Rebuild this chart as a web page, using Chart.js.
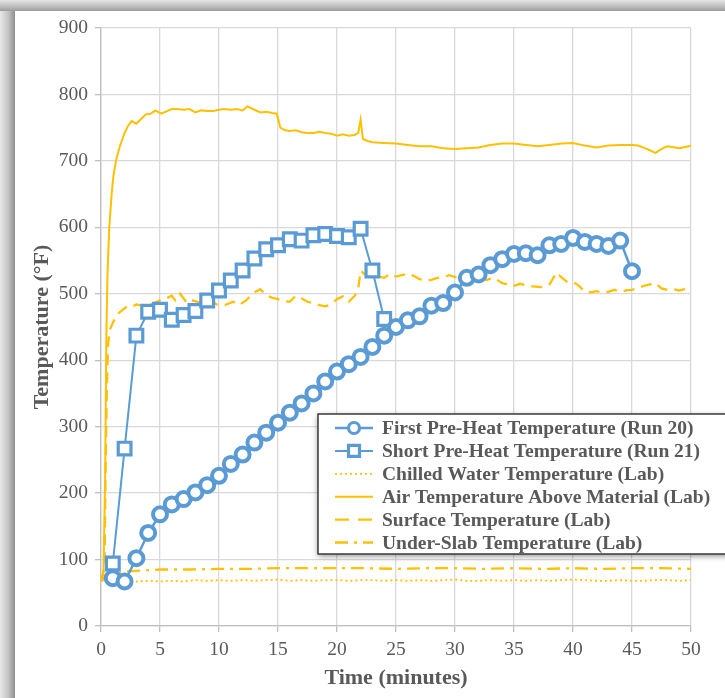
<!DOCTYPE html>
<html lang="en">
<head>
  <meta charset="UTF-8" />
  <script src="https://cdn.jsdelivr.net/npm/chart.js"></script>
  <style>
    html, body { margin: 0; padding: 0; background: #fff; }
    body { width: 725px; height: 698px; position: relative; overflow: hidden; }
    #frameLeft { position: absolute; left: 0; top: 0; width: 15px; height: 698px;
      background: linear-gradient(to right, #e8e8e8, #c4c4c4 55%, #8e8e8e); }
    #frameTop { position: absolute; left: 0; top: 0; width: 725px; height: 11px;
      background: linear-gradient(to bottom, #e4e4e4, #c0c0c0 55%, #9c9c9c); }
    canvas { position: absolute; left: 0; top: 0; }
  </style>
</head>
<body>
  <canvas id="tempChart" width="725" height="698"></canvas>
  <div id="frameLeft"></div>
  <div id="frameTop"></div>

  <script>
    // minute-by-minute runs
    const run20Minutes = [1,2,3,4,5,6,7,8,9,10,11,12,13,14,15,16,17,18,19,20,21,22,23,24,25,26,27,28,29,30,31,32,33,34,35,36,37,38,39,40,41,42,43,44,45];
    const run20Temps = [72,67,102,140,168,183,191,201,212,226,244,258,276,291,306,321,335,350,368,383,394,405,420,437,450,460,466,482,486,502,524,529,543,552,560,561,558,573,575,584,578,575,572,580,534];
    const run21Minutes = [1,2,3,4,5,6,7,8,9,10,11,12,13,14,15,16,17,18,19,20,21,22,23,24];
    const run21Temps = [94,267,437,473,476,461,468,474,490,505,520,535,553,567,573,582,580,588,590,587,585,598,535,462];

    // lab readings
    const airTime = [0,0.2,0.35,0.45,0.55,0.7,0.9,1.05,1.3,1.6,2,2.3,2.6,3,3.4,3.8,4.2,4.6,5.1,5.6,6,6.5,7,7.5,8,8.5,9,9.5,10,10.5,11,11.5,12,12.4,13,13.5,14,14.5,14.9,15.2,15.6,16,16.5,17,17.5,18,18.5,19,19.5,20,20.5,21,21.5,21.8,22,22.2,22.6,23,24,25,26,27,28,29,30,31,32,33,34,35,36,37,38,39,40,41,42,43,44,45,45.5,46,46.5,47,47.5,48,49,49.5,50];
    const airTemp = [68,72,220,430,530,600,650,677,703,722,742,753,760,756,763,770,771,776,771,775,778,778,777,778,773,776,775,775,777,778,777,778,776,782,777,773,774,772,771,750,746,745,746,743,742,742,744,742,741,738,740,738,739,742,762,733,730,728,727,726,724,722,722,719,718,719,720,724,726,726,724,722,724,726,727,723,720,723,724,724,723,720,716,712,718,722,719,721,723];

    const surfaceTime = [0,0.3,0.4,0.5,0.6,0.75,1,1.3,1.7,2.2,2.6,3,3.5,4,4.5,5,5.5,6,6.3,6.7,7.3,7.8,8.3,8.8,9.3,9.8,10.5,11.2,11.7,12.3,12.9,13.5,14,14.5,15,15.5,16,16.5,17,17.5,18,18.5,19,19.5,20,20.5,21,21.5,21.8,22,22.3,22.8,23.3,24,24.5,25,25.5,26,26.5,27,27.5,28,28.5,29,29.5,30,30.5,31,31.5,32,32.7,33.3,34,34.5,35,35.5,36,36.6,37.3,38,38.6,39,39.5,40,40.5,41,41.5,42,42.5,43,43.5,44,44.5,45,45.5,46,46.5,47,47.5,48,48.5,49,49.5,50];
    const surfaceTemp = [68,90,250,360,425,446,456,467,474,481,480,484,482,482,486,490,493,497,490,500,486,490,487,484,490,484,483,488,483,490,501,507,498,494,492,489,488,497,493,488,486,483,481,484,492,496,488,497,508,535,530,528,527,524,530,526,528,530,527,522,520,521,524,525,528,525,526,520,521,523,521,524,516,514,512,515,513,511,510,514,532,525,518,518,512,503,502,504,502,503,506,503,505,506,508,512,514,516,508,506,507,505,507,506];

    const underSlabTime = [0,0.5,1,1.5,2,3,4,5,7.5,10,12.5,15,17.5,20,22.5,25,27.5,30,32.5,35,37.5,40,42.5,45,47.5,50];
    const underSlabTemp = [68,72,76,80,82,83,84,85,85,86,86,87,87,87,87,86,87,87,86,87,86,87,86,87,87,86];

    const chilledTime = [0,1,2,3,4,5,6,7,8,9,10,11,12,13,14,15,16,17,18,19,20,21,22,23,24,25,26,27,28,29,30,31,32,33,34,35,36,37,38,39,40,41,42,43,44,45,46,47,48,49,50];
    const chilledTemp = [68,70,68,67,68,67,68,67,69,68,69,68,69,68,69,70,68,69,68,69,69,68,69,69,68,69,68,69,68,69,70,68,68,69,68,69,68,69,68,69,70,69,68,68,69,68,68,69,69,68,69];

    const xTicks = [0,5,10,15,20,25,30,35,40,45,50];
    const yTicks = [0,100,200,300,400,500,600,700,800,900];

    const pairs = (xs, ys) => xs.map((x, i) => ({ x, y: ys[i] }));

    const BLUE = '#5b9bd5';
    const GOLD = '#ffc000';
    const GREY = '#595959';
    const SERIF = '"Liberation Serif", "Times New Roman", serif';

    // legend drawn in a box over the plot, like the original
    const boxLegend = {
      id: 'boxLegend',
      afterDraw(chart) {
        const ctx = chart.ctx;
        const x0 = 318, y0 = 414, w = 440, h = 140;
        ctx.save();
        ctx.shadowColor = 'rgba(0,0,0,0.45)';
        ctx.shadowBlur = 6;
        ctx.shadowOffsetY = 2;
        ctx.fillStyle = '#fff';
        ctx.fillRect(x0, y0, w, h);
        ctx.restore();

        ctx.save();
        ctx.strokeStyle = '#3a3a3a';
        ctx.lineWidth = 1.5;
        ctx.strokeRect(x0, y0, w, h);
        ctx.font = 'bold 19.5px ' + SERIF;
        ctx.fillStyle = GREY;
        ctx.textBaseline = 'middle';
        chart.data.datasets.forEach((ds, i) => {
          const y = 428 + i * 22.9;
          ctx.strokeStyle = ds.borderColor;
          ctx.lineWidth = ds.borderWidth;
          ctx.setLineDash(ds.legendDash || ds.borderDash || []);
          ctx.beginPath();
          ctx.moveTo(335, y);
          ctx.lineTo(373, y);
          ctx.stroke();
          ctx.setLineDash([]);
          if (ds.pointRadius) {
            ctx.fillStyle = '#fff';
            ctx.lineWidth = 3.2;
            ctx.beginPath();
            if (ds.pointStyle === 'rect') ctx.rect(354 - 5.5, y - 5.5, 11, 11);
            else ctx.arc(354, y, 5.5, 0, Math.PI * 2);
            ctx.fill();
            ctx.stroke();
          }
          ctx.fillStyle = GREY;
          ctx.fillText(ds.label, 382, y + 1);
        });
        ctx.restore();
      }
    };

    new Chart(document.getElementById('tempChart'), {
      type: 'line',
      data: {
        datasets: [
          {
            label: 'First Pre-Heat Temperature (Run 20)',
            data: pairs(run20Minutes, run20Temps),
            borderColor: BLUE, borderWidth: 2.5,
            pointStyle: 'circle', pointRadius: 7, pointBorderWidth: 4,
            pointBackgroundColor: '#fff', pointBorderColor: BLUE,
          },
          {
            label: 'Short Pre-Heat Temperature (Run 21)',
            data: pairs(run21Minutes, run21Temps),
            borderColor: BLUE, borderWidth: 2,
            pointStyle: 'rect', pointRadius: 9, pointBorderWidth: 3.2,
            pointBackgroundColor: '#fff', pointBorderColor: BLUE,
          },
          {
            label: 'Chilled Water Temperature (Lab)',
            data: pairs(chilledTime, chilledTemp),
            borderColor: GOLD, borderWidth: 1.8, borderDash: [2, 3],
            pointRadius: 0,
          },
          {
            label: 'Air Temperature Above Material (Lab)',
            data: pairs(airTime, airTemp),
            borderColor: GOLD, borderWidth: 2,
            pointRadius: 0,
          },
          {
            label: 'Surface Temperature (Lab)',
            data: pairs(surfaceTime, surfaceTemp),
            borderColor: GOLD, borderWidth: 2.3, borderDash: [11, 7],
            legendDash: [14, 9],
            pointRadius: 0,
          },
          {
            label: 'Under-Slab Temperature (Lab)',
            data: pairs(underSlabTime, underSlabTemp),
            borderColor: GOLD, borderWidth: 2.3, borderDash: [13, 6, 3, 6],
            pointRadius: 0,
          },
        ],
      },
      options: {
        responsive: false,
        animation: false,
        layout: { padding: { left: 0, right: 34, top: 28, bottom: 0 } },
        plugins: {
          legend: { display: false },
          tooltip: { enabled: false },
        },
        scales: {
          x: {
            type: 'linear', min: 0, max: 50,
            afterBuildTicks: s => { s.ticks = xTicks.map(v => ({ value: v })); },
            afterFit: s => { s.height = 72; },
            grid: { color: '#d9d9d9', lineWidth: 1.3, tickLength: 6, tickColor: '#bfbfbf' },
            border: { color: '#bfbfbf', width: 1.3 },
            ticks: { color: GREY, padding: 6, maxRotation: 0, font: { family: SERIF, size: 19.5 } },
            title: {
              display: true, text: 'Time (minutes)', color: GREY,
              padding: { top: 0, bottom: 6 },
              font: { family: SERIF, size: 22, weight: 'bold' },
            },
          },
          y: {
            min: 0, max: 900,
            afterBuildTicks: s => { s.ticks = yTicks.map(v => ({ value: v })); },
            afterFit: s => { s.width = 101; },
            grid: { color: '#d9d9d9', lineWidth: 1.3, tickLength: 6, tickColor: '#bfbfbf' },
            border: { color: '#bfbfbf', width: 1.3 },
            ticks: { color: GREY, padding: 7, font: { family: SERIF, size: 19.5 } },
            title: {
              display: true, text: 'Temperature (°F)', color: GREY,
              padding: { top: 29, bottom: 0 },
              font: { family: SERIF, size: 22, weight: 'bold' },
            },
          },
        },
      },
      plugins: [boxLegend],
    });
  </script>
</body>
</html>
